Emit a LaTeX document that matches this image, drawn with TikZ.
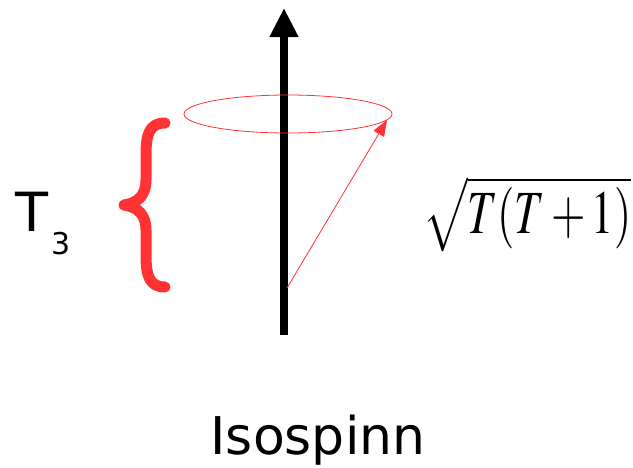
\documentclass[tikz,border=0pt]{standalone}
\usepackage{mathptmx}
\usepackage{fontspec}
\newfontfamily\labelfont{DejaVu Sans}
\usepackage{xcolor}
\usetikzlibrary{arrows.meta, positioning, calc}
\definecolor{spinred}{RGB}{255,51,51}

\begin{document}
\begin{tikzpicture}[
    x=1pt, y=-1pt,
    axis/.style={line width=8pt, -{Triangle[width=27pt, length=29pt]}},
    spin/.style={spinred, line width=0.8pt, -{Triangle[width=12pt, length=16pt]}},
    brace/.style={spinred, line width=11pt, line cap=round, line join=round},
    label/.style={inner sep=0pt, font=\labelfont}
]
  \useasboundingbox (0,0) rectangle (633,467);

  % Axis and cone
  \coordinate (base) at (284,335);
  \coordinate (tip) at (284,8);
  \coordinate (centre) at (288,114);
  \coordinate (origin) at (287,288);
  \coordinate (rim) at (387,120);
  \draw[axis] (base) -- (tip);
  \draw[spinred, line width=0.8pt] (centre) ellipse [x radius=104, y radius=19];
  \draw[spin] (origin) -- (rim);

  % Projection brace
  \draw[brace] (165,123) .. controls (149,123) and (146,135) .. (146,155) -- (146,180)
    .. controls (146,195) and (138,203) .. (124,205)
    .. controls (138,207) and (146,215) .. (146,230) -- (146,255)
    .. controls (146,275) and (149,287) .. (165,287);

  % Labels
  \node[label, anchor=south west, font=\labelfont\fontsize{54}{60}\selectfont] (tthree) at (15,232) {T};
  \node[label, anchor=south west, font=\labelfont\fontsize{30}{34}\selectfont] (sub) at (51,255) {3};
  \node[inner sep=0pt, anchor=north west] (length) at (423,176)
    {\resizebox*{208pt}{76pt}{$\sqrt{T(T+1)}$}};
  \node[label, anchor=base, font=\labelfont\fontsize{52}{60}\selectfont] (name) at (318,454) {Isospinn};
\end{tikzpicture}
\end{document}
